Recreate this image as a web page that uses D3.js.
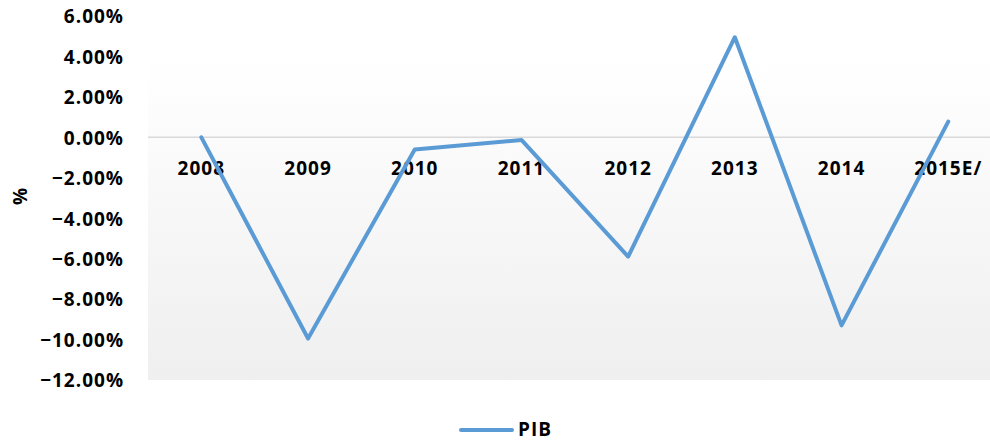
<!DOCTYPE html>
<html>
<head>
<meta charset="utf-8">
<title>PIB</title>
<script src="https://d3js.org/d3.v7.min.js"></script>
<style>
  body { margin: 0; background: #fff; }
  svg { display: block; }
  .lbl { font-family: "Open Sans", sans-serif; font-weight: bold; font-size: 19px; fill: #000; letter-spacing: 1px; }
</style>
</head>
<body>
<div id="chart"></div>
<script>
const years = ['2008', '2009', '2010', '2011', '2012', '2013', '2014', '2015E/'];
const pib = [0.0, -9.95, -0.6, -0.13, -5.9, 4.95, -9.3, 0.78];
const yTicks = [-12, -10, -8, -6, -4, -2, 0, 2, 4, 6];

const width = 990, height = 442;
const plotLeft = 148, plotTop = 16, plotBottom = 380;
const step = 106.7;

const svg = d3.select('#chart').append('svg')
  .attr('width', width)
  .attr('height', height);

const grad = svg.append('defs').append('linearGradient')
  .attr('id', 'bg').attr('x1', 0).attr('y1', 0).attr('x2', 0).attr('y2', 1);
grad.append('stop').attr('offset', '0%').attr('stop-color', '#ffffff');
grad.append('stop').attr('offset', '12%').attr('stop-color', '#ffffff');
grad.append('stop').attr('offset', '100%').attr('stop-color', '#efefef');

const x = d3.scaleBand()
  .domain(years)
  .range([plotLeft, plotLeft + step * years.length])
  .padding(0);

const y = d3.scaleLinear()
  .domain([-12, 6])
  .range([plotBottom, plotTop]);

// plot area
svg.append('rect')
  .attr('x', plotLeft).attr('y', plotTop)
  .attr('width', step * years.length).attr('height', plotBottom - plotTop)
  .attr('fill', 'url(#bg)');

// zero line
svg.append('line')
  .attr('x1', plotLeft).attr('x2', plotLeft + step * years.length)
  .attr('y1', y(0)).attr('y2', y(0))
  .attr('stroke', '#d9d9d9').attr('stroke-width', 1.5);

// y axis
const yAxis = svg.append('g')
  .attr('transform', `translate(${plotLeft - 24},0)`)
  .call(d3.axisLeft(y).tickValues(yTicks).tickSize(0).tickPadding(0)
    .tickFormat(d => d3.format('.2f')(d) + '%'));
yAxis.select('.domain').remove();
yAxis.selectAll('text').attr('class', 'lbl').attr('dy', '0.36em');
yAxis.attr('font-size', null).attr('font-family', null);

// x axis labels
const xAxis = svg.append('g')
  .attr('transform', `translate(0,${y(0)})`)
  .call(d3.axisBottom(x).tickSize(0).tickPadding(0));
xAxis.select('.domain').remove();
xAxis.selectAll('text').attr('class', 'lbl').attr('y', 31).attr('dy', '0.36em');
xAxis.attr('font-size', null).attr('font-family', null);

// axis title
svg.append('text')
  .attr('class', 'lbl')
  .attr('transform', 'translate(20,196) rotate(-90)')
  .attr('text-anchor', 'middle')
  .attr('dy', '0.36em')
  .text('%');

// series line
const line = d3.line()
  .x((d, i) => x(years[i]) + x.bandwidth() / 2)
  .y(d => y(d));

svg.append('path')
  .datum(pib)
  .attr('d', line)
  .attr('fill', 'none')
  .attr('stroke', '#5b9bd5')
  .attr('stroke-width', 4)
  .attr('stroke-linejoin', 'round')
  .attr('stroke-linecap', 'round');

// legend
const lg = svg.append('g').attr('transform', 'translate(461,430)');
lg.append('line')
  .attr('x1', 0).attr('x2', 51).attr('y1', 0).attr('y2', 0)
  .attr('stroke', '#5b9bd5').attr('stroke-width', 4).attr('stroke-linecap', 'round');
lg.append('text')
  .attr('class', 'lbl')
  .attr('x', 57).attr('y', -1).attr('dy', '0.36em')
  .text('PIB');
</script>
</body>
</html>
